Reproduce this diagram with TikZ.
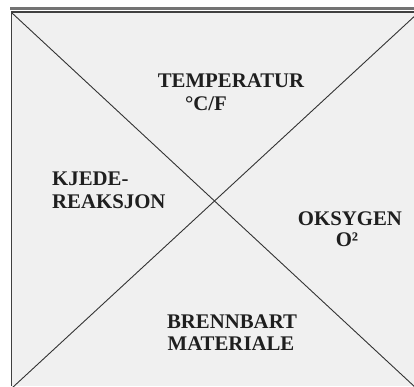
\documentclass[tikz,border=0pt]{standalone}
\usepackage{fontspec}
\setmainfont{Liberation Serif}
\begin{document}
\begin{tikzpicture}[x=1pt,y=-1pt,
  lbl/.style={font=\fontsize{20.8}{23}\selectfont\bfseries, text=black!88, inner sep=0pt, align=center},
  diag/.style={draw=black!80, line width=0.9pt}]
\useasboundingbox (0,0) rectangle (414,386);
\fill[white] (0,0) rectangle (414,386);
\fill[black!6] (12,12) rectangle (414,386);
\fill[black!55] (10,7) rectangle (414,10);
\draw[black!75, line width=1.2pt] (11.5,386) -- (11.5,12) -- (414,12);
\coordinate (tl) at (12,13);
\coordinate (br) at (416,388);
\coordinate (tr) at (418,13);
\coordinate (bl) at (12,388);
\draw[diag] (tl) -- (br);
\draw[diag] (tr) -- (bl);
\node[lbl, anchor=base] (t1) at (231,87) {TEMPERATUR};
\node[lbl, anchor=base] (t2) at (206,110) {°C/F};
\node[lbl, anchor=base west, align=left] (k1) at (52,185) {KJEDE-};
\node[lbl, anchor=base west, align=left] (k2) at (52,208) {REAKSJON};
\node[lbl, anchor=base] (o1) at (350,225) {OKSYGEN};
\node[lbl, anchor=base] (o2) at (347,246) {O²};
\node[lbl, anchor=base] (b1) at (232,328) {BRENNBART};
\node[lbl, anchor=base] (b2) at (231,350) {MATERIALE};
\end{tikzpicture}
\end{document}
